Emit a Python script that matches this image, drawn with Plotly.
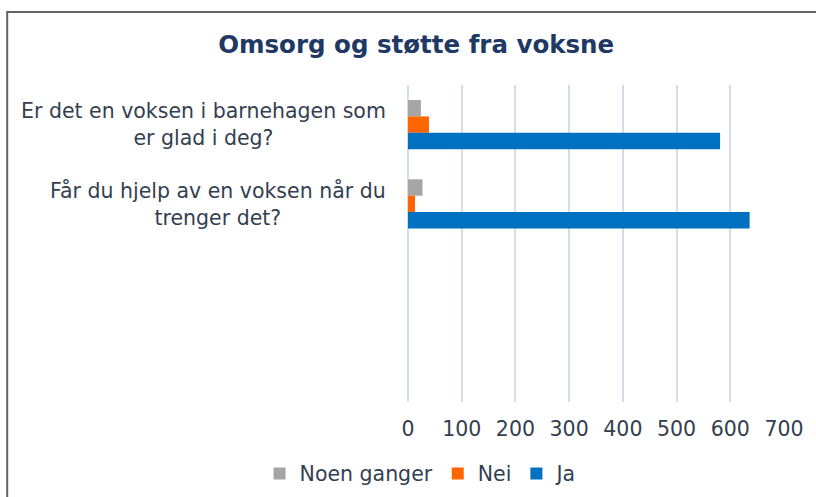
import plotly.graph_objects as go

# Survey answers per question
questions = [
    "Er det en voksen i barnehagen som<br>er glad i deg?",
    "Får du hjelp av en voksen når du<br>trenger det?",
]
noen_ganger = [24, 27]
nei = [39, 13]
ja = [581, 636]

series = [
    ("Noen ganger", noen_ganger, "#a5a5a5"),
    ("Nei", nei, "#ff6600"),
    ("Ja", ja, "#0070c0"),
]

x_ticks = [0, 100, 200, 300, 400, 500, 600, 700]

TEXT = "#333f50"
FONT = "DejaVu Sans"

fig = go.Figure()
for name, vals, color in series:
    fig.add_trace(go.Bar(
        name=name, y=questions, x=vals, orientation="h",
        marker=dict(color=color, line=dict(width=0)),
    ))

# Centered, two-line category labels to the left of the plot area
for q in questions:
    fig.add_annotation(
        x=0, xref="paper", y=q, yref="y", xanchor="right", xshift=-20,
        text=q, showarrow=False, align="center",
        font=dict(family=FONT, size=20.5, color=TEXT),
    )

# Chart frame
fig.add_shape(
    type="rect", xref="paper", yref="paper",
    x0=-1.066, x1=1.2, y0=-0.5, y1=1.230,
    line=dict(color="#646464", width=2), fillcolor="rgba(0,0,0,0)",
)

fig.update_layout(
    width=816, height=497,
    margin=dict(l=408, r=30, t=85, b=95),
    paper_bgcolor="white", plot_bgcolor="white",
    barmode="group", bargap=0.38, bargroupgap=0,
    title=dict(
        text="<b>Omsorg og støtte fra voksne</b>",
        x=0.51, xref="container", xanchor="center",
        y=0.911, yref="container", yanchor="middle",
        font=dict(family=FONT, size=24.5, color="#203864"),
    ),
    legend=dict(
        orientation="h", x=0.516, xref="container", xanchor="center",
        y=0.047, yref="container", yanchor="middle",
        font=dict(family=FONT, size=20.5, color=TEXT),
        itemwidth=30, traceorder="normal",
    ),
    showlegend=True,
)

fig.update_xaxes(
    range=[0, 700], tickvals=x_ticks, showgrid=True,
    gridcolor="#d5dde9", gridwidth=1.5,
    zeroline=True, zerolinecolor="#d5dde9", zerolinewidth=1.5,
    showline=False, ticks="", ticklabelstandoff=12,
    tickfont=dict(family=FONT, size=20.5, color=TEXT),
)
fig.update_yaxes(
    range=[3.5, -0.5], showticklabels=False, showgrid=False,
    zeroline=False, showline=False, ticks="",
)

fig.write_html("out.html")
